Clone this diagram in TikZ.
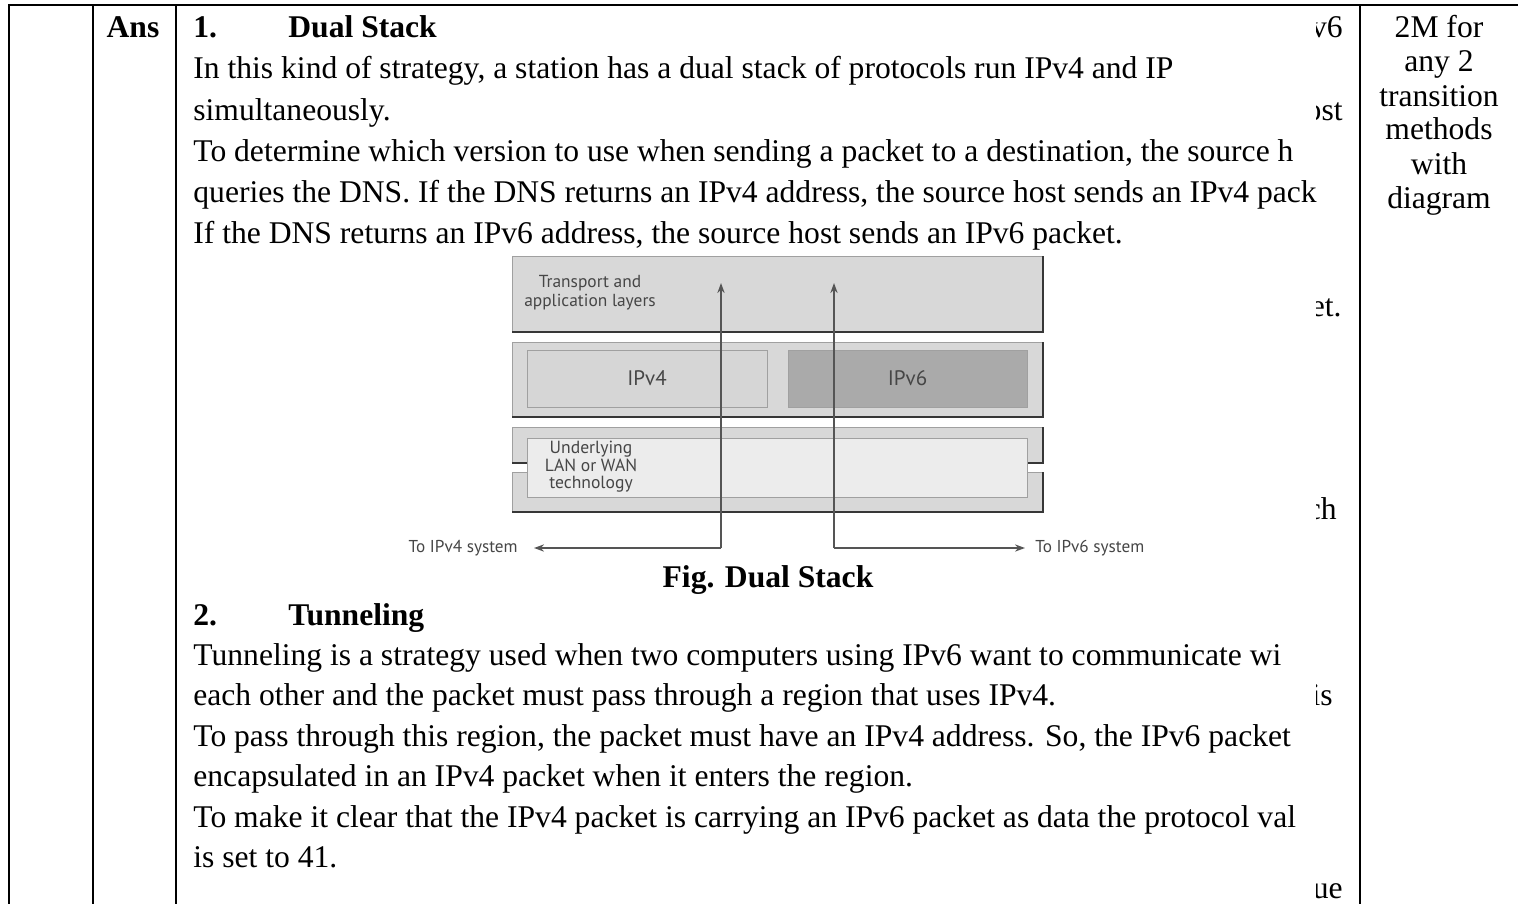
\documentclass[tikz,border=0pt]{standalone}
\usepackage{fontspec}
\setmainfont{Liberation Serif}
\newfontfamily\figfont{PT Sans}
\usetikzlibrary{arrows.meta}

\definecolor{layerfill}{RGB}{216,216,216}
\definecolor{layeredge}{RGB}{160,160,160}
\definecolor{layershade}{RGB}{55,55,55}
\definecolor{vfourfill}{RGB}{214,214,214}
\definecolor{vsixfill}{RGB}{170,170,170}
\definecolor{linkfill}{RGB}{236,236,236}
\definecolor{figtext}{RGB}{70,70,70}
\definecolor{flowline}{RGB}{85,85,85}

\begin{document}
\begin{tikzpicture}[x=0.5pt,y=-0.5pt,
  body/.style={anchor=base west,inner sep=0pt,font=\fontsize{15.8}{18}\selectfont},
  bodybf/.style={body,font=\fontsize{15.8}{18}\selectfont\bfseries},
  marks/.style={anchor=base,inner sep=0pt,font=\fontsize{15.8}{18}\selectfont},
  frag/.style={anchor=base east,inner sep=0pt,font=\fontsize{15.8}{18}\selectfont},
  rule/.style={line width=1pt,black},
  layer/.style={draw=layeredge,fill=layerfill,line width=0.5pt,inner sep=0pt,outer sep=0pt},
  shade/.style={draw=layershade,line width=1.3pt},
  proto/.style={layer,font=\figfont\fontsize{10.5}{12}\selectfont,text=figtext},
  figlabel/.style={inner sep=0pt,font=\figfont\fontsize{8.7}{9.4}\selectfont,text=figtext,align=center},
  linklabel/.style={figlabel,font=\figfont\fontsize{8.8}{8.8}\selectfont},
  sidelabel/.style={inner sep=0pt,font=\figfont\fontsize{8.6}{9}\selectfont,text=figtext},
  flow/.style={draw=flowline,line width=0.75pt,-{Stealth[length=5pt,width=3.6pt]}}
]
\useasboundingbox (0,0) rectangle (1518,904);
\fill[white] (0,0) rectangle (1518,904);

% table frame
\draw[rule] (8,5) -- (1518,5);
\draw[rule] (9,5) -- (9,904);
\draw[rule] (93,5) -- (93,904);
\draw[rule] (176,5) -- (176,904);
\draw[rule] (1360,5) -- (1360,904);

% second column
\node[marks,font=\fontsize{15.8}{18}\selectfont\bfseries] (ans) at (133,38) {Ans};

% section 1 heading and text
\node[bodybf] (n1) at (193,38) {1.};
\node[bodybf] (h1) at (288,38) {Dual Stack};
\node[body] (a1) at (193,79) {In this kind of strategy, a station has a dual stack of protocols run IPv4 and IP};
\node[body] (a2) at (193,120) {simultaneously.};
\node[body] (a3) at (193,161) {To determine which version to use when sending a packet to a destination, the source h};
\node[body] (a4) at (193,202) {queries the DNS. If the DNS returns an IPv4 address, the source host sends an IPv4 pack};
\node[body] (a5) at (193,243) {If the DNS returns an IPv6 address, the source host sends an IPv6 packet.};

% dual stack figure: layers
\node[layer,minimum width=265.5pt,minimum height=38pt] (app) at (777.5,294) {};
\draw[shade] (app.north east) -- (app.south east) -- (app.south west);
\node[figlabel] (applabel) at (590,293) {Transport and\\application layers};

\node[layer,minimum width=265.5pt,minimum height=37.5pt] (net) at (777.5,379.5) {};
\draw[shade] (net.north east) -- (net.south east) -- (net.south west);
\node[proto,fill=vfourfill,minimum width=120pt,minimum height=28.5pt] (v4) at (647,378.5) {IPv4};
\node[proto,fill=vsixfill,minimum width=119.5pt,minimum height=28.5pt] (v6) at (907.5,378.5) {IPv6};

\node[layer,minimum width=265.5pt,minimum height=18pt] (phyA) at (777.5,445) {};
\draw[shade] (phyA.north east) -- (phyA.south east) -- (phyA.south west);
\node[layer,minimum width=265.5pt,minimum height=20pt] (phyB) at (777.5,492) {};
\draw[shade] (phyB.north east) -- (phyB.south east) -- (phyB.south west);
\node[layer,fill=linkfill,minimum width=250pt,minimum height=29.5pt] (link) at (777,467.5) {};
\node[linklabel] (linktext) at (591,467) {Underlying\\LAN or WAN\\technology};

% dual stack figure: packet paths
\coordinate (v4turn) at (721,548);
\coordinate (v4up) at (721,283);
\coordinate (v6turn) at (834,548);
\coordinate (v6up) at (834,283);
\node[sidelabel,anchor=east] (tov4) at (518,548) {To IPv4 system};
\node[sidelabel,anchor=west] (tov6) at (1035,548) {To IPv6 system};
\draw[flow] (v4turn) -- (v4up);
\draw[flow] (v4turn) -- ([xshift=8pt]tov4.east);
\draw[flow] (v6turn) -- (v6up);
\draw[flow] (v6turn) -- ([xshift=-5pt]tov6.west);

\node[marks,font=\fontsize{15.8}{18}\selectfont\bfseries] (cap) at (768,587) {Fig. Dual Stack};

% section 2 heading and text
\node[bodybf] (n2) at (193,625) {2.};
\node[bodybf] (h2) at (288,625) {Tunneling};
\node[body] (b1) at (193,665) {Tunneling is a strategy used when two computers using IPv6 want to communicate wi};
\node[body] (b2) at (193,705) {each other and the packet must pass through a region that uses IPv4.};
\node[body] (b3) at (193,746) {To pass through this region, the packet must have an IPv4 address. So, the IPv6 packet};
\node[body] (b4) at (193,786) {encapsulated in an IPv4 packet when it enters the region.};
\node[body] (b5) at (193,827) {To make it clear that the IPv4 packet is carrying an IPv6 packet as data the protocol val};
\node[body] (b6) at (193,867) {is set to 41.};

% word ends cut off at the cell edge
\begin{scope}
\clip (1316,0) rectangle (1358,904);
\node[frag] (f1) at (1343,38) {v6};
\node[frag] (f2) at (1343,120) {ost};
\node[frag] (f3) at (1342,316) {et.};
\node[frag] (f4) at (1337,519) {ch};
\node[frag] (f5) at (1333,705) {is};
\node[frag] (f6) at (1343,898) {ue};
\end{scope}

% marks column
\node[marks] (m1) at (1439,38) {2M for};
\node[marks] (m2) at (1439,72) {any 2};
\node[marks] (m3) at (1439,106) {transition};
\node[marks] (m4) at (1439,140) {methods};
\node[marks] (m5) at (1439,174) {with};
\node[marks] (m6) at (1439,208) {diagram};
\end{tikzpicture}
\end{document}
